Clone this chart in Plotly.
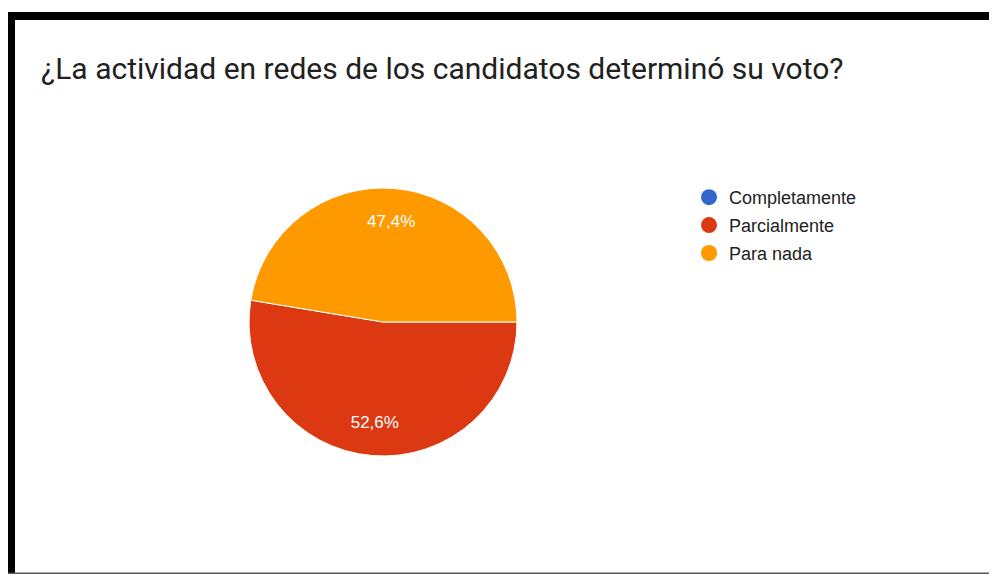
import plotly.graph_objects as go

# The page places the figure 8px in from the top-left corner (default body margin),
# so the figure is sized to the visible area and reference pixels are offset by 8.
PAGE_W, PAGE_H = 997, 574
OFF = 8
W, H = PAGE_W - OFF, PAGE_H - OFF

categories = ["Completamente", "Parcialmente", "Para nada"]
values = [0, 52.6, 47.4]
colors = ["#3366CC", "#DC3912", "#FF9900"]
title_text = "¿La actividad en redes de los candidatos determinó su voto?"


def px(x):
    """reference page x -> paper fraction"""
    return (x - OFF) / W


def py(y):
    """reference page y -> paper fraction"""
    return 1 - (y - OFF) / H


pie_domain = dict(x=[px(249), px(517)], y=[py(456), py(188)])

fig = go.Figure()

# main pie (colours + white separators)
fig.add_trace(go.Pie(
    labels=categories,
    values=values,
    sort=False,
    direction="clockwise",
    rotation=90,
    marker=dict(colors=colors, line=dict(color="white", width=1)),
    textinfo="none",
    showlegend=False,
    hoverinfo="label+percent",
    domain=pie_domain,
))

# transparent ring on top carrying the percentage labels (places them at ~3/4 radius)
fig.add_trace(go.Pie(
    labels=categories,
    values=values,
    sort=False,
    direction="clockwise",
    rotation=90,
    hole=0.5,
    marker=dict(colors=["rgba(0,0,0,0)"] * len(values), line=dict(width=0)),
    texttemplate=["" if v == 0 else "%{percent:.1%}" for v in values],
    textposition="inside",
    insidetextorientation="horizontal",
    textfont=dict(family="Arial, 'Liberation Sans', sans-serif", size=17, color="white"),
    showlegend=False,
    hoverinfo="skip",
    domain=pie_domain,
))

# legend entries with circular markers
for cat, col in zip(categories, colors):
    fig.add_trace(go.Scatter(
        x=[None], y=[None], mode="markers", name=cat, legendgroup=cat,
        marker=dict(color=col, size=16, symbol="circle"),
        showlegend=True,
    ))

shapes = [
    dict(type="rect", xref="paper", yref="paper", x0=px(8), x1=px(1000), y0=py(20), y1=py(12),
         fillcolor="black", line=dict(width=0), layer="above"),
    dict(type="rect", xref="paper", yref="paper", x0=px(8), x1=px(15), y0=py(580), y1=py(12),
         fillcolor="black", line=dict(width=0), layer="above"),
    dict(type="rect", xref="paper", yref="paper", x0=px(8), x1=px(1000), y0=py(574), y1=py(572.5),
         fillcolor="#555555", line=dict(width=0), layer="above"),
]

fig.update_layout(
    width=W, height=H,
    margin=dict(l=0, r=0, t=0, b=0),
    paper_bgcolor="white", plot_bgcolor="white",
    separators=",.",
    font=dict(family="Arial, 'Liberation Sans', sans-serif", color="#222222"),
    title=dict(text=title_text, x=px(41), xanchor="left", y=py(68), yanchor="middle",
               xref="paper", yref="paper",
               font=dict(family="Roboto, Arial, sans-serif", size=30, color="#212121")),
    legend=dict(x=px(689), y=py(179), xanchor="left", yanchor="top",
                traceorder="grouped", tracegroupgap=1.5,
                font=dict(family="Arial, 'Liberation Sans', sans-serif", size=18, color="#222222"),
                bgcolor="rgba(0,0,0,0)"),
    xaxis=dict(visible=False, domain=[0.75, 0.76]),
    yaxis=dict(visible=False, domain=[0.0, 0.01]),
    shapes=shapes,
)

fig.write_html("out.html")
